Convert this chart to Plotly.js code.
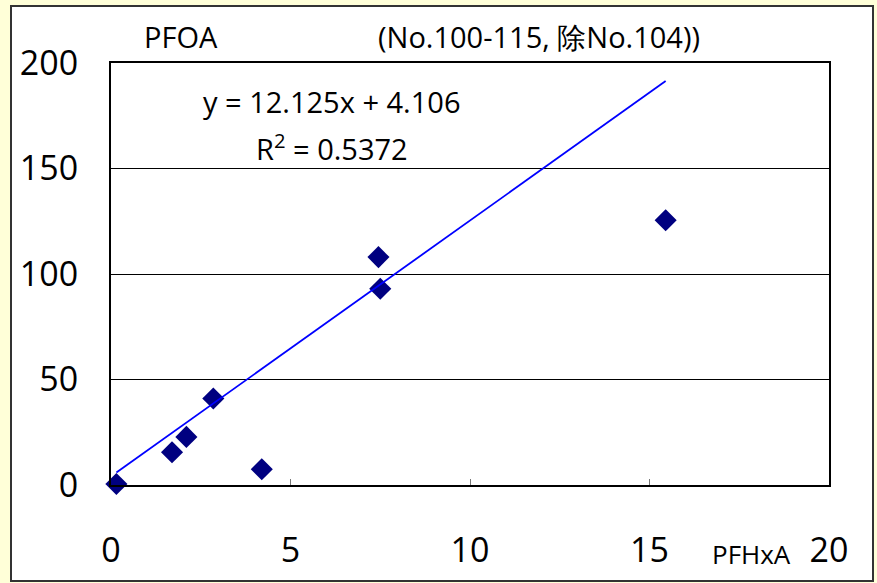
<!DOCTYPE html>
<html>
<head>
<meta charset="utf-8">
<script src="https://cdn.plot.ly/plotly-3.0.1.min.js"></script>
<style>html,body{margin:0;padding:0;background:#FFFFD8;}#chart{width:877px;height:583px;}</style>
</head>
<body>
<div id="chart"></div>
<script>
// Data
const pfhxa = [0.15, 1.7, 2.1, 2.85, 4.2, 7.45, 7.5, 15.45];
const pfoa  = [0.5, 15.5, 22.8, 41.0, 7.5, 108.0, 93.0, 125.5];
const slope = 12.125;
const intercept = 4.106;
const rSquared = 0.5372;
const xTicks = [0, 5, 10, 15, 20];
const yTicks = [0, 50, 100, 150, 200];
const titleLeft = 'PFOA';
const titleRight = '(No.100-115, 除No.104))';
const xLabel = 'PFHxA';

const W = 877, H = 583;
const L = 111, R = 829, T = 63, B = 485;
const px = v => (v - L) / (R - L);
const py = v => (B - v) / (B - T);

const xMin = Math.min(...pfhxa), xMax = Math.max(...pfhxa);
const trendX = [xMin, xMax];
const trendY = trendX.map(x => slope * x + intercept);

const font = 'Open Sans, Arial, sans-serif';

const traces = [
  {x: pfhxa, y: pfoa, type: 'scatter', mode: 'markers', cliponaxis: false,
   marker: {symbol: 'diamond', size: 17, color: '#000080'}, hoverinfo: 'skip'},
  {x: trendX, y: trendY, type: 'scatter', mode: 'lines', cliponaxis: false,
   line: {color: '#0000FF', width: 1.8}, hoverinfo: 'skip'}
];

function note(text, x, y, size) {
  return {text: text, xref: 'paper', yref: 'paper', x: px(x), y: py(y),
          xanchor: 'center', yanchor: 'middle', showarrow: false,
          font: {size: size, family: font, color: '#000'}};
}

const layout = {
  width: W, height: H,
  paper_bgcolor: '#FFFFD8', plot_bgcolor: '#FFFFFF',
  margin: {l: L, r: W - R, t: T, b: H - B, pad: 0},
  showlegend: false,
  font: {family: font, color: '#000'},
  xaxis: {range: [0, 20], tickvals: xTicks, ticktext: xTicks.map(String),
          showgrid: false, zeroline: false, showline: true, linecolor: '#000', linewidth: 2,
          mirror: true, ticks: 'inside', ticklen: 6, tickcolor: '#777', tickwidth: 1,
          tickfont: {size: 34, family: font}, ticklabelstandoff: 34, fixedrange: true},
  yaxis: {range: [0, 200], tickvals: yTicks, ticktext: yTicks.map(String),
          showgrid: true, gridcolor: '#000', gridwidth: 1, zeroline: false,
          showline: true, linecolor: '#000', linewidth: 2, mirror: true, ticks: '',
          tickfont: {size: 34, family: font}, ticklabelstandoff: 24, fixedrange: true},
  shapes: [
    {type: 'rect', xref: 'paper', yref: 'paper', layer: 'below',
     x0: px(11), x1: px(873), y0: py(581), y1: py(6),
     fillcolor: '#FFFFFF', line: {color: '#333', width: 2}}
  ],
  annotations: [
    note(titleLeft, 181, 36, 29),
    note(titleRight, 539, 36, 29),
    note('y = ' + slope.toFixed(3) + 'x + ' + intercept.toFixed(3), 331, 101, 29),
    note('R<sup>2</sup> = ' + rSquared.toFixed(4), 332, 147, 29),
    note(xLabel, 751, 554, 26)
  ]
};

Plotly.newPlot('chart', traces, layout, {displayModeBar: false, staticPlot: true});
</script>
</body>
</html>
